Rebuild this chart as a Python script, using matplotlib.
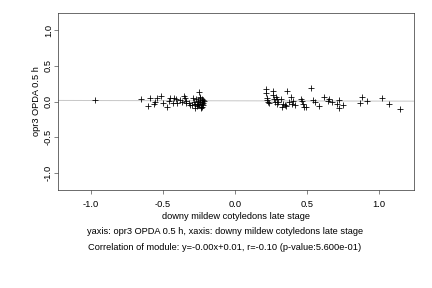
import numpy as np
import matplotlib
matplotlib.use("Agg")
import matplotlib.pyplot as plt

# values
x_vals = [
    -0.968, -0.65, -0.60, -0.588, -0.56, -0.553, -0.544, -0.51, -0.50, -0.47,
    -0.458, -0.447, -0.433, -0.42, -0.41, -0.405, -0.38, -0.366, -0.35, -0.343,
    -0.336, -0.336, -0.32, -0.31, -0.30, -0.29, -0.285, -0.28, -0.275, -0.27,
    -0.262, -0.258, -0.255, -0.25, -0.245, -0.243, -0.24, -0.236, -0.232, -0.23,
    -0.228, -0.225, -0.222, -0.22, -0.218, -0.215, -0.25, -0.26, -0.24, -0.23,
    0.218, 0.218, 0.22, 0.225, 0.232, 0.24, 0.266, 0.266, 0.27, 0.277,
    0.285, 0.29, 0.296, 0.303, 0.317, 0.324, 0.336, 0.347, 0.352, 0.363,
    0.377, 0.387, 0.396, 0.405, 0.419, 0.456, 0.465, 0.474, 0.481, 0.493,
    0.532, 0.546, 0.556, 0.586, 0.62, 0.646, 0.655, 0.678, 0.706, 0.72,
    0.72, 0.752, 0.870, 0.880, 0.92, 1.025, 1.072, 1.15,
]
y_vals = [
    0.02, 0.03, -0.06, 0.056, -0.03, 0.0, 0.056, 0.084, -0.02, -0.08,
    0.014, 0.05, -0.02, 0.047, 0.037, -0.014, 0.023, -0.01, 0.075, 0.047,
    0.014, -0.02, -0.02, -0.045, -0.05, 0.05, 0.0, -0.03, -0.09, 0.03,
    -0.03, 0.01, -0.05, 0.13, 0.05, 0.02, -0.01, -0.07, -0.09, 0.03,
    -0.03, 0.0, -0.05, 0.02, -0.02, 0.01, -0.03, -0.06, 0.06, -0.08,
    0.17, 0.12, 0.05, 0.02, -0.005, -0.025, 0.154, 0.093, 0.03, -0.01,
    0.06, -0.04, 0.03, -0.01, 0.03, -0.07, -0.04, -0.045, -0.06, 0.145,
    -0.01, 0.06, -0.035, 0.01, -0.05, 0.033, 0.005, -0.03, -0.07, -0.07,
    0.19, 0.028, -0.01, -0.056, 0.07, 0.01, 0.03, -0.005, -0.033, 0.027,
    -0.093, -0.043, -0.015, 0.07, 0.005, 0.056, -0.033, -0.098,
]
x_ticks = [-1.0, -0.5, 0.0, 0.5, 1.0]
y_ticks = [-1.0, -0.5, 0.0, 0.5, 1.0]
fit_slope = -0.004
fit_intercept = 0.01

x_label = "downy mildew cotyledons late stage"
y_label = "opr3 OPDA 0.5 h"
line2 = "yaxis: opr3 OPDA 0.5 h, xaxis: downy mildew cotyledons late stage"
line3 = "Correlation of module: y=-0.00x+0.01, r=-0.10 (p-value:5.600e-01)"

plt.rcParams["font.family"] = ["Liberation Sans", "DejaVu Sans"]
fs = 9.2

fig = plt.figure(figsize=(6, 4), dpi=72)
ax = fig.add_axes([0.134, 0.34, 0.824, 0.615])

xs = np.array([-1.3, 1.3])
ax.plot(xs, fit_slope * xs + fit_intercept, color="#c8c8c8", lw=1.0, zorder=1)
ax.scatter(x_vals, y_vals, marker="+", s=30, c="black", linewidths=0.8, zorder=2)

ax.set_xlim(-1.229, 1.243)
ax.set_ylim(-1.238, 1.238)
ax.set_xticks(x_ticks)
ax.set_yticks(y_ticks)
ax.set_xticklabels([f"{t:.1f}" for t in x_ticks], fontsize=fs)
ax.set_yticklabels([f"{t:.1f}" for t in y_ticks], fontsize=fs, rotation=90, va="center")
ax.tick_params(axis="x", direction="out", length=4, width=0.6, color="#333333", pad=6)
ax.tick_params(axis="y", direction="out", length=4, width=0.6, color="#333333", pad=1)
for sp in ax.spines.values():
    sp.set_linewidth(0.7)
    sp.set_color("#333333")

ax.set_xlabel(x_label, fontsize=fs, labelpad=3)
ax.set_ylabel(y_label, fontsize=fs, labelpad=3)

cx = 225 / 432
fig.text(cx, 1 - 232 / 288, line2, ha="center", va="center", fontsize=fs)
fig.text(cx, 1 - 247 / 288, line3, ha="center", va="center", fontsize=fs)

fig.savefig("out.png", dpi=72)
